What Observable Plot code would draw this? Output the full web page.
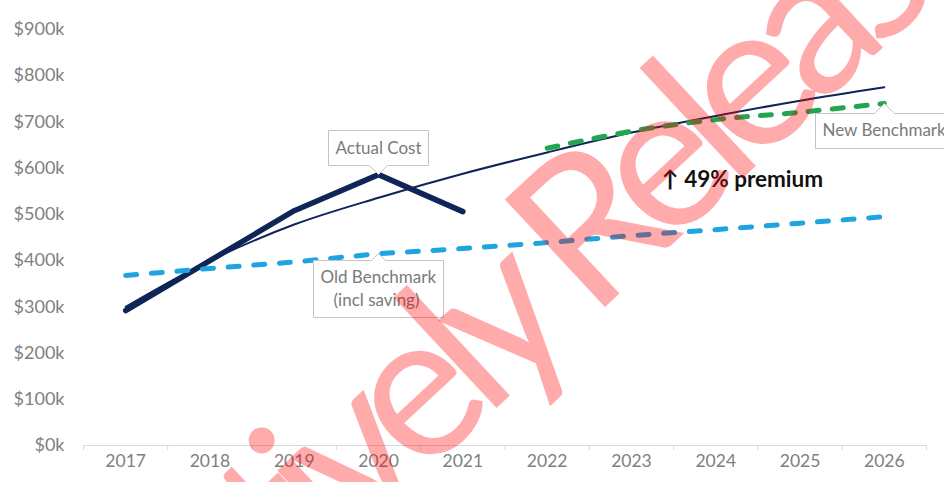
<!DOCTYPE html>
<html>
<head>
<meta charset="utf-8">
<script src="https://cdn.jsdelivr.net/npm/d3@7"></script>
<script src="https://cdn.jsdelivr.net/npm/@observablehq/plot@0.6"></script>
<style>
  html, body { margin: 0; padding: 0; background: #ffffff; }
  #chart { width: 944px; height: 482px; overflow: hidden; }
</style>
</head>
<body>
<div id="chart"></div>
<script>
// ---- data ----
const years = [2017, 2018, 2019, 2020, 2021, 2022, 2023, 2024, 2025, 2026];
const actualYears = [2017, 2018, 2019, 2020, 2021];
const actualCost = [292000, 400000, 508000, 586000, 506000];
const trendCost = [300000, 400000, 478000, 536000, 588000, 634000, 677000, 713000, 746000, 775000];
const oldBenchmark = [368000, 383000, 397000, 415000, 426000, 439000, 454000, 467000, 481000, 495000];
const newYears = [2022, 2023, 2024, 2025, 2026];
const newBenchmark = [643000, 680000, 705000, 721000, 740000];
const yTicks = [0, 100000, 200000, 300000, 400000, 500000, 600000, 700000, 800000, 900000];

// callouts: label, year, value
const calloutLabels = ["Actual Cost", "Old Benchmark\n\u00a0\u00a0\u00a0(incl saving)", "New Benchmark"];
const calloutYears = [2020, 2020, 2026];
const calloutValues = [586000, 415000, 740000];

const premiumLabel = ["\u2191 49% premium"];
const premiumYear = [2023.36];
const premiumValue = [575000];

const watermark = ["Proactively Released"];

// ---- tables ----
const actual = actualYears.map((y, i) => ({year: y, value: actualCost[i]}));
const trend = years.map((y, i) => ({year: y, value: trendCost[i]}));
const oldB = years.map((y, i) => ({year: y, value: oldBenchmark[i]}));
const newB = newYears.map((y, i) => ({year: y, value: newBenchmark[i]}));
const callouts = calloutLabels.map((l, i) => ({label: l, year: calloutYears[i], value: calloutValues[i]}));
const premium = premiumLabel.map((l, i) => ({label: l, year: premiumYear[i], value: premiumValue[i]}));
const bounds = years.map(y => y - 0.5).concat([years[years.length - 1] + 0.5]);

const navy = "#0f2457";
const lightBlue = "#1ea4e0";
const green = "#21a550";
const grey = "#808080";

const tipStyle = {
  x: "year", y: "value", title: "label",
  fill: "white", stroke: "#c4c4c4", strokeWidth: 1,
  pathFilter: "none", fontSize: 17, lineHeight: 1.3, textPadding: 7, pointerSize: 14
};

const chart = Plot.plot({
  width: 944,
  height: 482,
  marginLeft: 83,
  marginRight: 18,
  marginTop: 29,
  marginBottom: 37,
  style: {fontFamily: "Lato, 'Open Sans', sans-serif", fontSize: "16px", background: "white", overflow: "visible"},
  x: {type: "linear", domain: [2016.5, 2026.5]},
  y: {domain: [0, 900000]},
  marks: [
    Plot.ruleY([0], {stroke: "#d9d9d9", strokeWidth: 1}),
    Plot.axisX({ticks: bounds, tickFormat: () => "", tickSize: 5, stroke: "#d9d9d9", label: null}),
    Plot.axisX({ticks: years, tickFormat: d => String(d), tickSize: 0, tickPadding: 9, color: grey, fontSize: 17.5, label: null}),
    Plot.axisY({ticks: yTicks, tickFormat: d => `$${d / 1000}k`, tickSize: 0, tickPadding: 19, color: grey, fontSize: 18, label: null}),
    Plot.line(actual, {x: "year", y: "value", stroke: navy, strokeWidth: 5.5, strokeLinecap: "round", strokeLinejoin: "round"}),
    Plot.line(trend, {x: "year", y: "value", stroke: navy, strokeWidth: 2, curve: "catmull-rom"}),
    Plot.line(oldB, {x: "year", y: "value", stroke: lightBlue, strokeWidth: 5, strokeDasharray: "11,14.7", strokeLinecap: "round"}),
    Plot.line(newB, {x: "year", y: "value", stroke: green, strokeWidth: 5, strokeDasharray: "11,13", strokeLinecap: "round", curve: "catmull-rom"}),
    Plot.tip(callouts.slice(0, 1), {...tipStyle, anchor: "bottom", pointerSize: 18}),
    Plot.tip(callouts.slice(1, 2), {...tipStyle, anchor: "top"}),
    Plot.tip(callouts.slice(2, 3), {...tipStyle, anchor: "top", pointerSize: 20}),
    Plot.text(premium, {x: "year", y: "value", text: "label", textAnchor: "start", fontSize: 22.5, fontWeight: "bold", fill: "#111111"}),
    Plot.text(watermark, {text: d => d, frameAnchor: "middle", dx: -19.5, dy: 91, rotate: -43, fontSize: 205, fill: "#ff0000", fillOpacity: 0.33, fontFamily: "Lato"})
  ]
});

document.getElementById("chart").appendChild(chart);
d3.select(chart).selectAll('g[aria-label="tip"] text').style("fill", "#7a7a7a");
d3.select(chart).selectAll("text").filter(function () { return this.textContent === watermark[0]; })
  .style("letter-spacing", "-19px");
</script>
</body>
</html>
